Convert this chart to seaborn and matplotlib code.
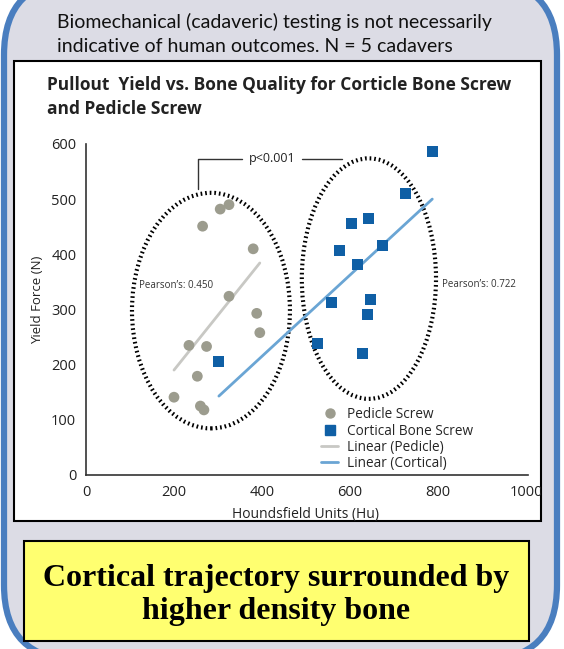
import numpy as np
import pandas as pd
import matplotlib
matplotlib.use('Agg')
import matplotlib.pyplot as plt
from matplotlib.patches import FancyBboxPatch, Rectangle, Ellipse
from matplotlib.lines import Line2D
import seaborn as sns

# values
pedicle_hu = [265, 305, 325, 380, 325, 388, 395, 234, 274, 253, 200, 260, 268]
pedicle_force = [451, 482, 490, 410, 324, 293, 258, 235, 233, 179, 141, 125, 118]
cortical_hu = [787, 727, 604, 642, 576, 674, 617, 558, 647, 640, 526, 629, 302]
cortical_force = [586, 511, 456, 465, 407, 416, 382, 312, 318, 291, 238, 220, 205]
x_ticks = [0, 200, 400, 600, 800, 1000]
y_ticks = [0, 100, 200, 300, 400, 500, 600]
pearson_pedicle = 'Pearson\u2019s: 0.450'
pearson_cortical = 'Pearson\u2019s: 0.722'

ped = pd.DataFrame({'hu': pedicle_hu, 'force': pedicle_force})
cor = pd.DataFrame({'hu': cortical_hu, 'force': cortical_force})

sns.set_theme(style='white')
plt.rcParams['font.family'] = ['Open Sans', 'DejaVu Sans']

W, H = 564, 649
fig = plt.figure(figsize=(W / 100, H / 100), dpi=100)

# background panel in pixel coordinates
bg = fig.add_axes([0, 0, 1, 1], zorder=0)
bg.set_xlim(0, W)
bg.set_ylim(H, 0)
bg.axis('off')
bg.add_patch(FancyBboxPatch((4, -20), 553, 680, boxstyle='round,pad=0,rounding_size=75',
                            fc='#dcdce5', ec='#4a7ebf', lw=4.5))
box = Rectangle((14, 61), 527, 460, fc='white', ec='black', lw=1.5)
bg.add_patch(box)
bg.add_patch(Rectangle((24, 541), 505, 100, fc='#ffff70', ec='black', lw=1.5))
bg.text(57, 34, 'Biomechanical (cadaveric) testing is not necessarily\n'
        'indicative of human outcomes. N = 5 cadavers',
        ha='left', va='center', fontsize=14, linespacing=1.5, color='#111111',
        family=['Lato', 'DejaVu Sans'])
bg.text(47, 97, 'Pullout  Yield vs. Bone Quality for Corticle Bone Screw\nand Pedicle Screw',
        ha='left', va='center', fontsize=12.5, fontweight='bold', linespacing=1.5,
        color='#222222')
bg.text(276, 595, 'Cortical trajectory surrounded by\nhigher density bone',
        ha='center', va='center', fontsize=23, fontweight='bold',
        family=['Liberation Serif', 'DejaVu Serif'], linespacing=1.2, color='black')

ax = fig.add_axes([86 / W, 1 - 475 / H, 440 / W, 331 / H], zorder=1)
ax.patch.set_alpha(0)

sns.scatterplot(data=ped, x='hu', y='force', ax=ax, color='#9c9c8e', s=60,
                marker='o', edgecolor='none', zorder=3)
sns.scatterplot(data=cor, x='hu', y='force', ax=ax, color='#0f5fa5', s=62,
                marker='s', edgecolor='none', zorder=3)
sns.regplot(data=ped, x='hu', y='force', ax=ax, scatter=False, ci=None, truncate=True,
            line_kws={'color': '#c8c8c4', 'lw': 2, 'zorder': 2})
sns.regplot(data=cor, x='hu', y='force', ax=ax, scatter=False, ci=None, truncate=True,
            line_kws={'color': '#6aa5d4', 'lw': 2, 'zorder': 2})

ax.set_xlim(0, 1000)
ax.set_ylim(0, 600)
ax.set_xticks(x_ticks)
ax.set_yticks(y_ticks)
ax.tick_params(length=0, labelsize=10.5, colors='#222222', pad=7)
ax.set_xlabel('Houndsfield Units (Hu)', fontsize=10, color='#222222', labelpad=5)
ax.set_ylabel('Yield Force (N)', fontsize=9.5, color='#222222', labelpad=5)
ax.yaxis.set_label_coords(-0.095, 0.53)
for s in ['top', 'right']:
    ax.spines[s].set_visible(False)
for s in ['left', 'bottom']:
    ax.spines[s].set_color('#333333')
    ax.spines[s].set_linewidth(1.2)
ax.spines['bottom'].set_bounds(0, 1005)
for lbl in ax.get_xticklabels():
    lbl.set_clip_path(box)

# dotted grouping ellipses
for cx, cy, w, h in [(284, 298, 359, 427), (643, 356, 305, 436)]:
    ax.add_patch(Ellipse((cx, cy), w, h, fill=False, ec='black', lw=3,
                         ls=(0, (0.4, 0.7)), zorder=1, clip_on=False))

ax.text(120, 344, pearson_pedicle, fontsize=7, va='center', ha='left', color='#333333')
ax.text(808, 345, pearson_cortical, fontsize=7, va='center', ha='left', color='#333333')

# significance bracket
ax.plot([255, 255, 355], [518, 573, 573], color='#333333', lw=1, clip_on=False)
ax.plot([491, 582], [573, 573], color='#333333', lw=1, clip_on=False)
ax.text(423, 573, 'p<0.001', fontsize=9, ha='center', va='center', color='#222222')

handles = [
    Line2D([], [], marker='o', ls='none', color='#9c9c8e', markersize=6.5),
    Line2D([], [], marker='s', ls='none', color='#0f5fa5', markersize=6.5),
    Line2D([], [], color='#c8c8c4', lw=2),
    Line2D([], [], color='#6aa5d4', lw=2),
]
labels = ['Pedicle Screw', 'Cortical Bone Screw', 'Linear (Pedicle)', 'Linear (Cortical)']
ax.legend(handles, labels, loc='upper left', bbox_to_anchor=(0.535, 0.205), frameon=False,
          fontsize=9.8, handlelength=1.2, handletextpad=0.7, labelspacing=0.1,
          borderpad=0, borderaxespad=0)

fig.savefig('out.png', dpi=100)
